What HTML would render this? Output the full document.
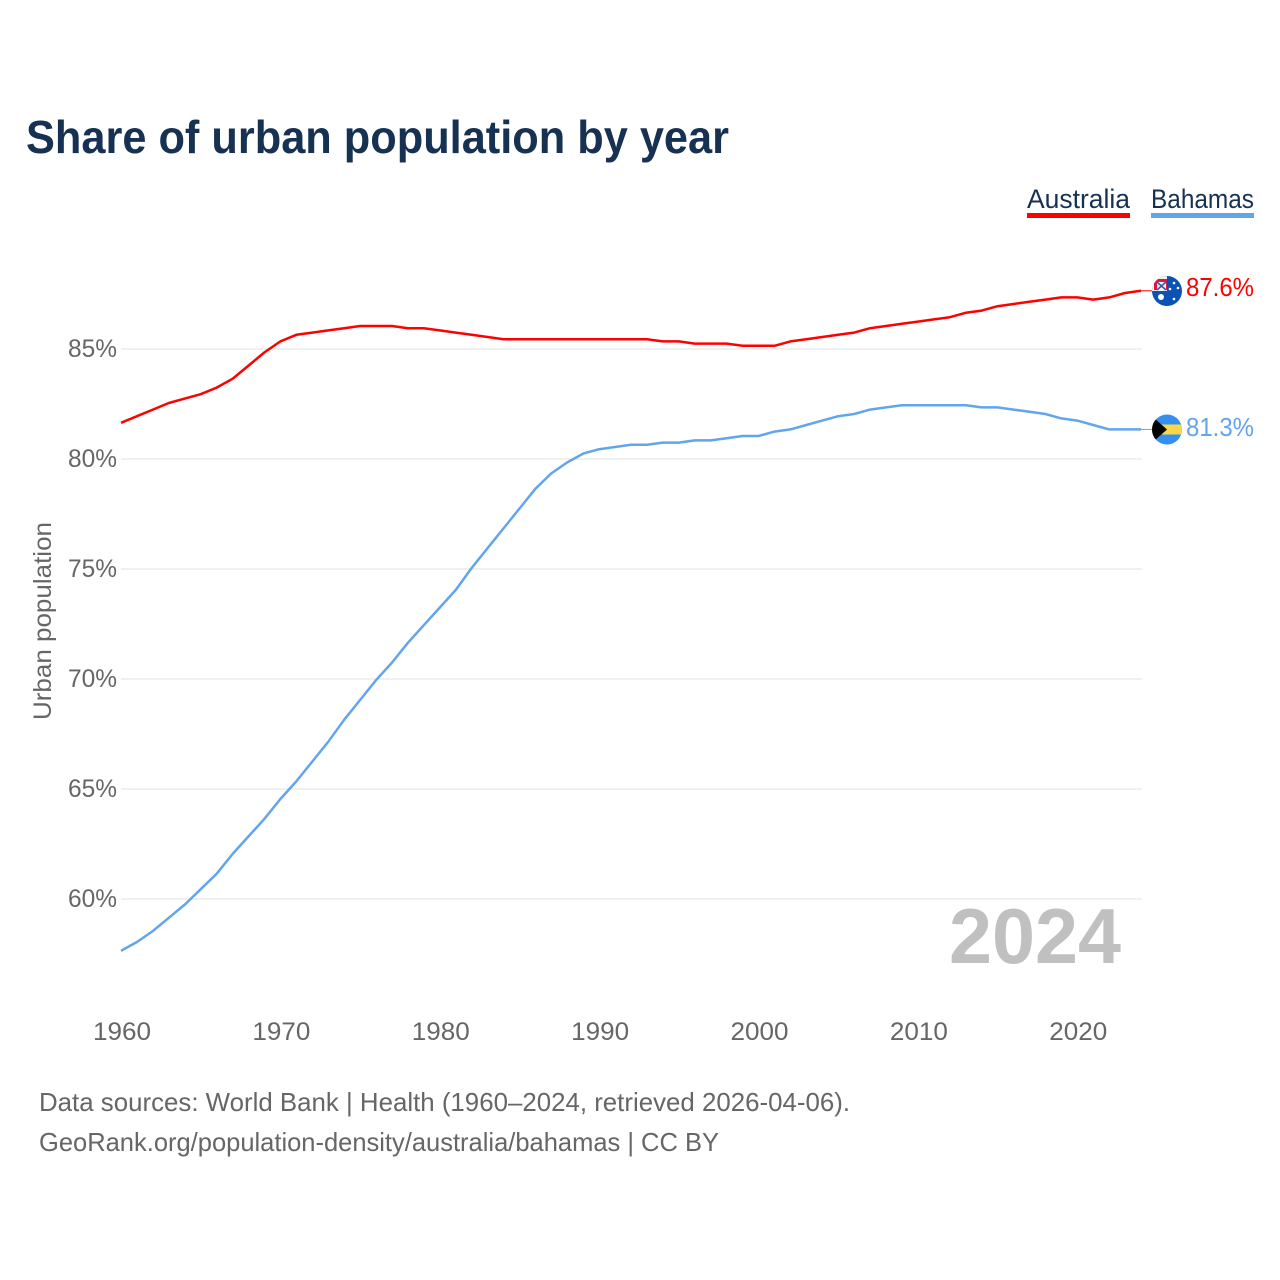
<!DOCTYPE html>
<html>
<head>
<meta charset="utf-8">
<style>
html,body{margin:0;padding:0;background:#fff;}
svg{display:block;font-family:"Liberation Sans",sans-serif;}
</style>
</head>
<body>
<svg id="chart" width="1280" height="1280" viewBox="0 0 1280 1280" xmlns="http://www.w3.org/2000/svg">
<defs>
<clipPath id="flag-au-clip"><circle cx="1167" cy="291" r="15"/></clipPath>
<clipPath id="flag-bs-clip"><circle cx="1167" cy="429.5" r="15"/></clipPath>
</defs>
<rect width="1280" height="1280" fill="#fff"/>
<text x="26" y="153" font-size="46" font-weight="700" fill="#163152" textLength="703" lengthAdjust="spacingAndGlyphs">Share of urban population by year</text>
<g>
<text x="1027" y="208" font-size="27" fill="#163152" textLength="103" lengthAdjust="spacingAndGlyphs">Australia</text>
<rect x="1027" y="213" width="103" height="5" fill="#ff0000"/>
</g>
<g>
<text x="1151" y="208" font-size="27" fill="#163152" textLength="103" lengthAdjust="spacingAndGlyphs">Bahamas</text>
<rect x="1151" y="213" width="103" height="5" fill="#62a5ec"/>
</g>
<g id="grid"></g>
<g id="yticks"></g>
<g id="xticks"></g>
<text transform="translate(51,621) rotate(-90)" text-anchor="middle" font-size="25" fill="#666" textLength="198" lengthAdjust="spacingAndGlyphs">Urban population</text>
<text x="1121" y="963" text-anchor="end" font-size="78" font-weight="700" fill="#c0c0c0" textLength="172" lengthAdjust="spacingAndGlyphs">2024</text>
<g id="series" transform="translate(0,-1)"></g>
<g clip-path="url(#flag-au-clip)">
<rect x="1152" y="276" width="30" height="30" fill="#0a52b5"/>
<rect x="1152" y="276" width="15" height="15" fill="#f1f1f4"/>
<rect x="1154" y="279" width="13" height="11" fill="#e0163c"/>
<rect x="1157" y="282" width="9" height="8" fill="#f4f4f8"/>
<path d="M1157 282L1166 290M1166 282L1157 290" stroke="#3a5aa8" stroke-width="1.6"/>
<circle cx="1161" cy="297" r="3" fill="#fff"/>
<circle cx="1174" cy="283" r="1.3" fill="#fff"/>
<circle cx="1170" cy="289" r="1.3" fill="#fff"/>
<circle cx="1178" cy="288" r="1.3" fill="#fff"/>
<circle cx="1174" cy="299" r="1.3" fill="#fff"/>
</g>
<g clip-path="url(#flag-bs-clip)">
<rect x="1152" y="414" width="30" height="31" fill="#3390f0"/>
<rect x="1152" y="424.5" width="30" height="10" fill="#fad648"/>
<path d="M1150 414.5L1167 429.5L1150 444.5Z" fill="#000"/>
</g>
<text x="1254" y="296" text-anchor="end" font-size="26" fill="#ff0000" textLength="68" lengthAdjust="spacingAndGlyphs">87.6%</text>
<text x="1254" y="436" text-anchor="end" font-size="26" fill="#62a5ec" textLength="68" lengthAdjust="spacingAndGlyphs">81.3%</text>
<text x="39" y="1111" font-size="26" fill="#666" textLength="811" lengthAdjust="spacingAndGlyphs">Data sources: World Bank | Health (1960–2024, retrieved 2026-04-06).</text>
<text x="39" y="1151" font-size="26" fill="#666" textLength="680" lengthAdjust="spacingAndGlyphs">GeoRank.org/population-density/australia/bahamas | CC BY</text>
</svg>
<script>
const startYear = 1960;
const australia = [81.6,81.9,82.2,82.5,82.7,82.9,83.2,83.6,84.2,84.8,85.3,85.6,85.7,85.8,85.9,86.0,86.0,86.0,85.9,85.9,85.8,85.7,85.6,85.5,85.4,85.4,85.4,85.4,85.4,85.4,85.4,85.4,85.4,85.4,85.3,85.3,85.2,85.2,85.2,85.1,85.1,85.1,85.3,85.4,85.5,85.6,85.7,85.9,86.0,86.1,86.2,86.3,86.4,86.6,86.7,86.9,87.0,87.1,87.2,87.3,87.3,87.2,87.3,87.5,87.6];
const bahamas = [57.6,58.0,58.5,59.1,59.7,60.4,61.1,62.0,62.8,63.6,64.5,65.3,66.2,67.1,68.1,69.0,69.9,70.7,71.6,72.4,73.2,74.0,75.0,75.9,76.8,77.7,78.6,79.3,79.8,80.2,80.4,80.5,80.6,80.6,80.7,80.7,80.8,80.8,80.9,81.0,81.0,81.2,81.3,81.5,81.7,81.9,82.0,82.2,82.3,82.4,82.4,82.4,82.4,82.4,82.3,82.3,82.2,82.1,82.0,81.8,81.7,81.5,81.3,81.3,81.3];
const yTickValues = [60,65,70,75,80,85];
const xTickValues = [1960,1970,1980,1990,2000,2010,2020];

const NS = 'http://www.w3.org/2000/svg';
function xScale(year){ return 121 + (year - 1960) * (1141 - 121) / 64; }
function yScale(v){ return 459 - (v - 80) * 22; }
function make(tag, attrs, parent, text){
  const el = document.createElementNS(NS, tag);
  for (const k in attrs) el.setAttribute(k, attrs[k]);
  if (text !== undefined) el.textContent = text;
  parent.appendChild(el);
  return el;
}
const grid = document.getElementById('grid');
const yticks = document.getElementById('yticks');
const xticks = document.getElementById('xticks');
const series = document.getElementById('series');
yTickValues.forEach(function(v){
  const line = make('line', {x1:121, x2:1142, y1:yScale(v), y2:yScale(v), stroke:'#ebebeb', 'stroke-width':1.5}, grid);
  
  
  const label = make('text', {x:117, y:yScale(v)+8, 'text-anchor':'end', 'font-size':25, fill:'#666', textLength:49, lengthAdjust:'spacingAndGlyphs'}, yticks, v + '%');
  
  
});
xTickValues.forEach(function(y){
  const label = make('text', {x:xScale(y)+1, y:1040, 'text-anchor':'middle', 'font-size':25, fill:'#666', textLength:58, lengthAdjust:'spacingAndGlyphs'}, xticks, String(y));
  
  
});
function drawLine(values, color, name){
  const pts = values.map(function(v, i){ return xScale(startYear + i).toFixed(2) + ',' + yScale(v).toFixed(2); });
  const p = make('polyline', {points:pts.join(' '), fill:'none', stroke:color, 'stroke-width':2.5, 'stroke-linejoin':'round'}, series);
  
  
  const lastY = yScale(values[values.length - 1]);
  const c = make('line', {x1:1141, x2:1152, y1:lastY, y2:lastY, stroke:color, 'stroke-width':1}, series);
  
  
}
drawLine(bahamas, '#62a5ec', 'line-bahamas');
drawLine(australia, '#ff0000', 'line-australia');
</script>
</body>
</html>
